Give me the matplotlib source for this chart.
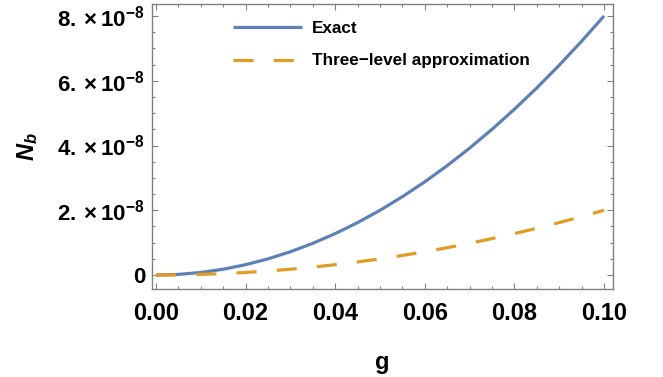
import matplotlib
matplotlib.use("Agg")
import matplotlib.pyplot as plt
from matplotlib.ticker import MultipleLocator, FixedLocator

plt.rcParams['font.family'] = ['Liberation Sans', 'DejaVu Sans']
plt.rcParams['font.weight'] = 'bold'
plt.rcParams['mathtext.fontset'] = 'custom'
plt.rcParams['mathtext.rm'] = 'Liberation Sans:bold'
plt.rcParams['mathtext.bf'] = 'Liberation Sans:bold'
plt.rcParams['mathtext.it'] = 'Liberation Sans:bold:italic'

# data (values of N_b in units of 1e-8)
g = [0.000, 0.005, 0.010, 0.015, 0.020, 0.025, 0.030, 0.035, 0.040, 0.045, 0.050,
     0.055, 0.060, 0.065, 0.070, 0.075, 0.080, 0.085, 0.090, 0.095, 0.100]
exact = [0.00, 0.02, 0.08, 0.18, 0.32, 0.50, 0.72, 0.98, 1.28, 1.62, 2.00,
         2.42, 2.88, 3.38, 3.92, 4.50, 5.12, 5.78, 6.48, 7.22, 8.00]
three_level = [0.000, 0.005, 0.020, 0.045, 0.080, 0.125, 0.180, 0.245, 0.320, 0.405, 0.500,
               0.605, 0.720, 0.845, 0.980, 1.125, 1.280, 1.445, 1.620, 1.805, 2.000]
series_labels = ["Exact", "Three\u2212level approximation"]
x_ticks = [0.00, 0.02, 0.04, 0.06, 0.08, 0.10]
x_ticklabels = ["0.00", "0.02", "0.04", "0.06", "0.08", "0.10"]
y_ticks = [0, 2, 4, 6, 8]
y_ticklabels = ["0", r"$2.\times10^{-8}$", r"$4.\times10^{-8}$", r"$6.\times10^{-8}$", r"$8.\times10^{-8}$"]

scale = 1e-8
fig = plt.figure(figsize=(6.63, 3.77), dpi=100)
ax = fig.add_axes([152/663, 1-289.3/377, (613-152)/663, (289.3-4.3)/377])

ax.plot(g, [v*scale for v in exact], color='#5E81B5', lw=2.3, label=series_labels[0],
        solid_capstyle='butt')
ax.plot(g, [v*scale for v in three_level], color='#E19C24', lw=2.3, dashes=(6.3, 6.3),
        label=series_labels[1], dash_capstyle='butt')

ax.set_xlim(-0.0009, 0.102)
ax.set_ylim(-0.44e-8, 8.36e-8)

ax.xaxis.set_major_locator(FixedLocator(x_ticks))
ax.set_xticklabels(x_ticklabels)
ax.xaxis.set_minor_locator(MultipleLocator(0.005))
ax.yaxis.set_major_locator(FixedLocator([v*scale for v in y_ticks]))
ax.set_yticklabels(y_ticklabels)
ax.yaxis.set_minor_locator(MultipleLocator(0.5e-8))

frame_col = '#808080'
for s in ax.spines.values():
    s.set_color(frame_col)
    s.set_linewidth(1.0)
ax.tick_params(which='both', direction='in', top=True, right=True, color=frame_col, width=0.8)
ax.tick_params(which='major', length=4.3)
ax.tick_params(which='minor', length=2.5)
ax.tick_params(axis='x', which='major', labelsize=17, pad=9)
ax.tick_params(axis='y', which='major', labelsize=16, pad=5)
for lab in ax.get_xticklabels() + ax.get_yticklabels():
    lab.set_fontweight('bold')

ax.set_xlabel('g', fontsize=17, fontweight='bold', labelpad=19)
ax.set_ylabel(r'$\mathit{N_b}$', fontsize=17, va='center', ha='center')
ax.yaxis.set_label_coords(-0.271, 0.5)

leg = ax.legend(loc='upper left', bbox_to_anchor=(0.175, 0.94), frameon=False,
                fontsize=12.3, handlelength=4.06, handletextpad=0.59,
                labelspacing=1.0, borderpad=0, borderaxespad=0)
for t in leg.get_texts():
    t.set_fontweight('bold')

fig.savefig('out.png', dpi=100)
